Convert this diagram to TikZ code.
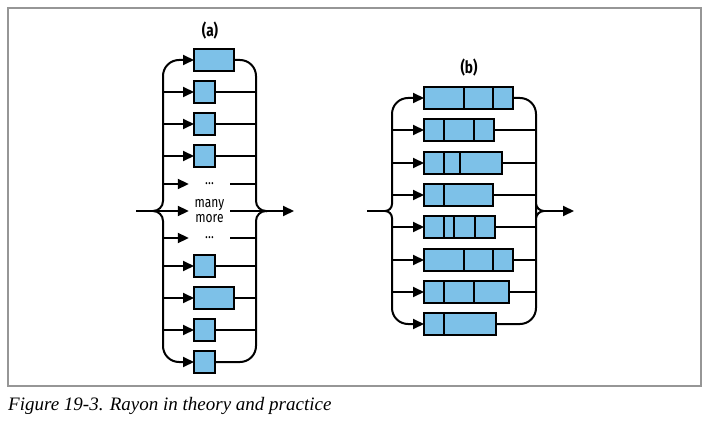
\documentclass[tikz,border=0pt]{standalone}
\usepackage{fontspec}
\setmainfont{Liberation Serif}
\setsansfont{Fira Sans}
\newfontfamily\condfont{Fira Sans}[FakeStretch=0.8]
\usetikzlibrary{positioning,arrows.meta}

\definecolor{cellblue}{RGB}{125,193,232}
\definecolor{framegray}{RGB}{150,150,150}

\begin{document}
\begin{tikzpicture}[
        x=1pt, y=-1pt,
        font=\condfont\fontsize{15}{15}\selectfont,
        cell/.style={draw, line width=1.6pt, fill=cellblue, minimum height=22pt, inner sep=0pt, outer sep=0pt},
        smallcell/.style={cell, minimum width=21pt},
        widecell/.style={cell, minimum width=40pt},
        gaptext/.style={minimum width=41pt, inner sep=0pt, align=center, font=\condfont\fontsize{15}{15}\selectfont},
        wire/.style={line width=2pt},
        wirearrow/.style={wire, -{Triangle[length=11pt, width=10pt]}},
        paneltitle/.style={font=\condfont\bfseries\fontsize{17}{17}\selectfont}
    ]

    % Page and frame
    \useasboundingbox (0,0) rectangle (712,425);
    \draw[framegray, line width=1.4pt] (8,8) rectangle (701,386);

    % Panel (a): tasks
    \node[paneltitle] (ta) at (210,31) {(a)};
    \node[widecell, anchor=west] (a1) at (194,60) {};
    \node[smallcell, anchor=west] (a2) at (194,92) {};
    \node[smallcell, anchor=west] (a3) at (194,124) {};
    \node[smallcell, anchor=west] (a4) at (194,156) {};
    \node[gaptext] (a5) at (209.5,184) {\dots};
    \node[gaptext] (a6) at (209.5,211) {many\\more};
    \node[gaptext] (a7) at (209.5,238) {\dots};
    \node[smallcell, anchor=west] (a8) at (194,266) {};
    \node[widecell, anchor=west] (a9) at (194,298) {};
    \node[smallcell, anchor=west] (a10) at (194,330) {};
    \node[smallcell, anchor=west] (a11) at (194,362) {};

    \coordinate (aIn) at (136,211);
    \coordinate (aTip) at (153,211);
    \coordinate (aL) at (163,211);
    \coordinate (aR) at (256,211);
    \coordinate (aTipR) at (267,211);
    \coordinate (aOut) at (294,211);

    % Braces (a)
    \draw[wirearrow] (aTip) [rounded corners=10pt] -| (aL |- a4) [rounded corners=16pt] |- (a1.west);
    \draw[wirearrow] (aTip) [rounded corners=10pt] -| (aL |- a8) [rounded corners=16pt] |- (a11.west);
    \draw[wire] (a1.east) [rounded corners=16pt] -| (aR |- a4) [rounded corners=10pt] |- (aTipR);
    \draw[wire] (a11.east) [rounded corners=16pt] -| (aR |- a8) [rounded corners=10pt] |- (aTipR);
    \draw[wirearrow] (aIn) -- (a6);
    \draw[wirearrow] (a6) -- (aOut);
    \foreach \r in {a2,a3,a4,a5,a7,a8,a9,a10} {
        \draw[wirearrow] (aL |- \r) -- (\r);
        \draw[wire] (\r) -- (aR |- \r);
    }

    % Panel (b): split tasks
    \node[paneltitle] (tb) at (469,68) {(b)};
    \node[cell, minimum width=40pt, anchor=west] (b1a) at (424,98) {};
    \node[cell, minimum width=29pt, right=0pt of b1a] (b1b) {};
    \node[cell, minimum width=20pt, right=0pt of b1b] (b1c) {};
    \node[cell, minimum width=20pt, anchor=west] (b2a) at (424,130) {};
    \node[cell, minimum width=30pt, right=0pt of b2a] (b2b) {};
    \node[cell, minimum width=20pt, right=0pt of b2b] (b2c) {};
    \node[cell, minimum width=20pt, anchor=west] (b3a) at (424,163) {};
    \node[cell, minimum width=16pt, right=0pt of b3a] (b3b) {};
    \node[cell, minimum width=42pt, right=0pt of b3b] (b3c) {};
    \node[cell, minimum width=20pt, anchor=west] (b4a) at (424,195) {};
    \node[cell, minimum width=49pt, right=0pt of b4a] (b4b) {};
    \node[cell, minimum width=20pt, anchor=west] (b5a) at (424,227) {};
    \node[cell, minimum width=10pt, right=0pt of b5a] (b5b) {};
    \node[cell, minimum width=21pt, right=0pt of b5b] (b5c) {};
    \node[cell, minimum width=20pt, right=0pt of b5c] (b5d) {};
    \node[cell, minimum width=40pt, anchor=west] (b6a) at (424,260) {};
    \node[cell, minimum width=29pt, right=0pt of b6a] (b6b) {};
    \node[cell, minimum width=20pt, right=0pt of b6b] (b6c) {};
    \node[cell, minimum width=20pt, anchor=west] (b7a) at (424,292) {};
    \node[cell, minimum width=30pt, right=0pt of b7a] (b7b) {};
    \node[cell, minimum width=35pt, right=0pt of b7b] (b7c) {};
    \node[cell, minimum width=20pt, anchor=west] (b8a) at (424,324) {};
    \node[cell, minimum width=52pt, right=0pt of b8a] (b8b) {};

    \coordinate (bIn) at (367,211);
    \coordinate (bTip) at (385,211);
    \coordinate (bL) at (392,211);
    \coordinate (bR) at (536,211);
    \coordinate (bTipR) at (544,211);
    \coordinate (bOut) at (574,211);

    % Braces (b)
    \draw[wirearrow] (bTip) [rounded corners=7pt] -| (bL |- b4a) [rounded corners=16pt] |- (b1a.west);
    \draw[wirearrow] (bTip) [rounded corners=7pt] -| (bL |- b5a) [rounded corners=16pt] |- (b8a.west);
    \draw[wire] (b1c.east) [rounded corners=16pt] -| (bR |- b4b) [rounded corners=8pt] |- (bTipR);
    \draw[wire] (b8b.east) [rounded corners=16pt] -| (bR |- b5d) [rounded corners=8pt] |- (bTipR);
    \draw[wire] (bIn) -- (bTip);
    \draw[wirearrow] (bTipR) -- (bOut);
    \foreach \f/\e in {b2a/b2c,b3a/b3c,b4a/b4b,b5a/b5d,b6a/b6c,b7a/b7c} {
        \draw[wirearrow] (bL |- \f) -- (\f);
        \draw[wire] (\e) -- (bR |- \e);
    }

    % Caption
    \node[anchor=west, inner sep=0pt, font=\rmfamily\itshape\fontsize{19}{19}\selectfont] (caption) at (8,406) {Figure 19-3. Rayon in theory and practice};

\end{tikzpicture}
\end{document}
